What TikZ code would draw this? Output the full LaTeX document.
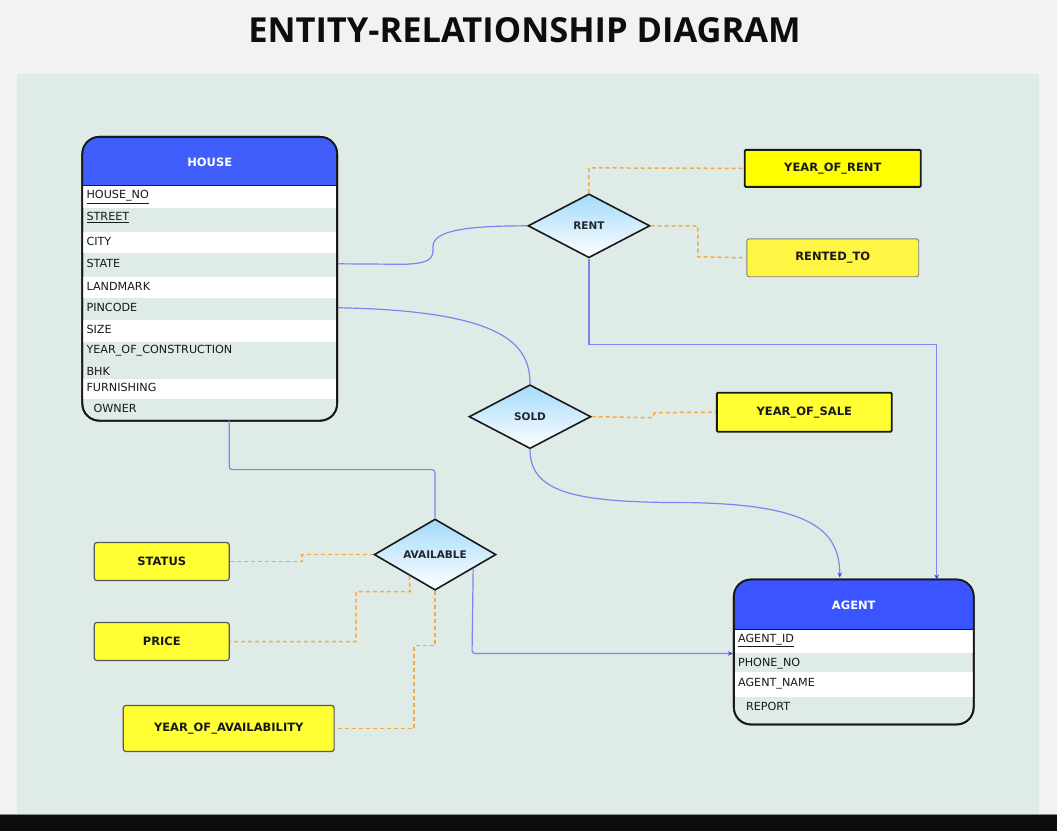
\documentclass[tikz,border=0pt]{standalone}
\usepackage{fontspec}
\setmainfont{DejaVu Sans}
\newfontfamily\titlefont{Open Sans}
\usetikzlibrary{shapes.geometric,arrows.meta,calc}
\definecolor{pagebg}{HTML}{F2F2F2}
\definecolor{canvas}{HTML}{DFEBE6}
\definecolor{hdrblue}{HTML}{3F5EFC}
\definecolor{hdrblue2}{HTML}{3A55FF}
\definecolor{linkblue}{HTML}{7C86F0}
\definecolor{arrowblue}{HTML}{2E45E8}
\definecolor{dashorange}{HTML}{F6A944}
\definecolor{diamtop}{HTML}{A3DAFB}
\definecolor{yel}{HTML}{FFFF33}
\definecolor{yelpure}{HTML}{FFFF00}
\definecolor{yelsoft}{HTML}{FFF543}
\begin{document}
\begin{tikzpicture}[x=1pt,y=-1pt,
  tbl/.style={draw=black!90, line width=1.8pt, rounded corners=17pt, fill=canvas, inner sep=0},
  hdrtxt/.style={text=white, font=\bfseries\fontsize{11.5}{13}\selectfont, inner sep=0},
  rowtxt/.style={anchor=west, inner sep=0, text=black!90, font=\fontsize{11.2}{13}\selectfont},
  rel/.style={diamond, draw=black!90, line width=1.6pt, top color=diamtop, bottom color=white, minimum width=122pt, minimum height=64pt, inner sep=0, font=\bfseries\fontsize{10.5}{12}\selectfont, text=black!85},
  attrA/.style={draw=black!90, line width=1.8pt, fill=yelpure, rounded corners=1pt, inner sep=0, font=\bfseries\fontsize{11.5}{13}\selectfont, text=black!90},
  attrB/.style={draw=black!65, line width=1.2pt, fill=yel, rounded corners=2.5pt, inner sep=0, font=\bfseries\fontsize{11.5}{13}\selectfont, text=black!90},
  link/.style={draw=linkblue, line width=1.2pt},
  linkarr/.style={link, -{Stealth[length=5pt,width=4.5pt,color=arrowblue]}},
  attrlink/.style={draw=dashorange, line width=1.5pt, dash pattern=on 4pt off 3pt},
]
% page and canvas
\fill[pagebg] (0,0) rectangle (1057,832);
\fill[canvas] (17,74) rectangle (1039,815);
\fill[black!95] (0,815) rectangle (1057,832);
\draw[black!45, line width=0.8pt] (0,815) -- (1057,815);

\node[font=\titlefont\bfseries\fontsize{34.5}{40}\selectfont, text=black!95, inner sep=0] (title) at (524.5,30) {ENTITY-RELATIONSHIP DIAGRAM};

% HOUSE table
\node[tbl, minimum width=255pt, minimum height=284pt] (house) at (209.5,279) {};
\begin{scope}
  \clip[rounded corners=17pt] (82,137) rectangle (337,421);
  \fill[hdrblue] (82,137) rectangle (337,186);
  \fill[white] (82,186) rectangle (337,208);
  \fill[white] (82,232) rectangle (337,253);
  \fill[white] (82,277) rectangle (337,298);
  \fill[white] (82,320) rectangle (337,342);
  \fill[white] (82,379) rectangle (337,399);
  \draw[black!90, line width=1pt] (82,186) -- (337,186);
\end{scope}
\draw[black!90, line width=1.8pt, rounded corners=17pt] (82,137) rectangle (337,421);
\node[hdrtxt] (househdr) at (209.5,162) {HOUSE};
\node[rowtxt] (h1) at (86,197) {\underline{HOUSE\_NO}};
\node[rowtxt] (h2) at (86,218) {\underline{STREET}};
\node[rowtxt] (h3) at (86,242) {CITY};
\node[rowtxt] (h4) at (86,264) {STATE};
\node[rowtxt] (h5) at (86,287) {LANDMARK};
\node[rowtxt] (h6) at (86,308) {PINCODE};
\node[rowtxt] (h7) at (86,330) {SIZE};
\node[rowtxt] (h8) at (86,351) {YEAR\_OF\_CONSTRUCTION};
\node[rowtxt] (h9) at (86,372) {BHK};
\node[rowtxt] (h10) at (86,388) {FURNISHING};
\node[rowtxt] (h11) at (93,409) {OWNER};

% AGENT table
\node[tbl, minimum width=240pt, minimum height=145pt] (agent) at (854,652.5) {};
\begin{scope}
  \clip[rounded corners=17pt] (734,580) rectangle (974,725);
  \fill[hdrblue2] (734,580) rectangle (974,630);
  \fill[white] (734,630) rectangle (974,653);
  \fill[white] (734,673) rectangle (974,698);
  \draw[black!90, line width=1pt] (734,630) -- (974,630);
\end{scope}
\draw[black!90, line width=1.8pt, rounded corners=17pt] (734,580) rectangle (974,725);
\node[hdrtxt] (agenthdr) at (854,606) {AGENT};
\node[rowtxt] (a1) at (738,641) {\underline{AGENT\_ID}};
\node[rowtxt] (a2) at (738,664) {PHONE\_NO};
\node[rowtxt] (a3) at (738,684) {AGENT\_NAME};
\node[rowtxt] (a4) at (746,707) {REPORT};

% relationships
\node[rel] (rent) at (589,226) {RENT};
\node[rel] (sold) at (530,417) {SOLD};
\node[rel] (avail) at (435,555) {AVAILABLE};

% attributes
\node[attrA, minimum width=176pt, minimum height=37pt] (yrent) at (833,168.5) {YEAR\_OF\_RENT};
\node[attrB, draw=black!50, line width=0.9pt, fill=yelsoft, minimum width=172pt, minimum height=38pt] (rentedto) at (833,258) {RENTED\_TO};
\node[attrA, fill=yel, minimum width=175pt, minimum height=39pt] (ysale) at (804.5,412.5) {YEAR\_OF\_SALE};
\node[attrB, minimum width=135pt, minimum height=38pt] (status) at (161.5,562) {STATUS};
\node[attrB, minimum width=135pt, minimum height=38pt] (price) at (161.5,642) {PRICE};
\node[attrB, minimum width=211pt, minimum height=46pt] (yavail) at (228.5,729) {YEAR\_OF\_AVAILABILITY};

% relationship connectors (blue)
\draw[link] (house.east |- h4) -- (405,264.5) .. controls (433,263) and (433,258) .. (433,246)
  .. controls (434,230) and (470,226) .. (rent.west);
\draw[linkarr] (rent.south) -- (589,345) -- (937,345) -- (937,580);
\draw[link] (house.east |- h6) .. controls (505,311) and (530,345) .. (sold.north);
\draw[linkarr] (sold.south) .. controls (530,495) and (580,503) .. (690,503)
  .. controls (810,505) and (840,530) .. (840,578);
\draw[link, rounded corners=3pt] (229,421) -- (229,470) -- (435,470) -- (avail.north);
\coordinate (availr) at ($(avail.east)!0.383!(avail.south)$);
\draw[linkarr, rounded corners=3pt] (availr) -- (472,654) -- (agent.west |- 0,654);

% attribute connectors (orange dashed)
\draw[attrlink] (rent.north) -- (589,168) -- (yrent.west);
\draw[attrlink] (rent.east) -- (698,226) -- (698,257) -- (rentedto.west);
\draw[attrlink] (sold.east) -- (652,418) -- (655,413) -- (ysale.west);
\draw[attrlink] (status.east) -- (302,562) -- (302,555) -- (avail.west);
\coordinate (availl) at ($(avail.west)!0.583!(avail.south)$);
\draw[attrlink] (availl) -- (410,592) -- (356,592) -- (356,642) -- (price.east);
\draw[attrlink] (avail.south) -- (435,646) -- (414,646) -- (414,729) -- (yavail.east);
\end{tikzpicture}
\end{document}
